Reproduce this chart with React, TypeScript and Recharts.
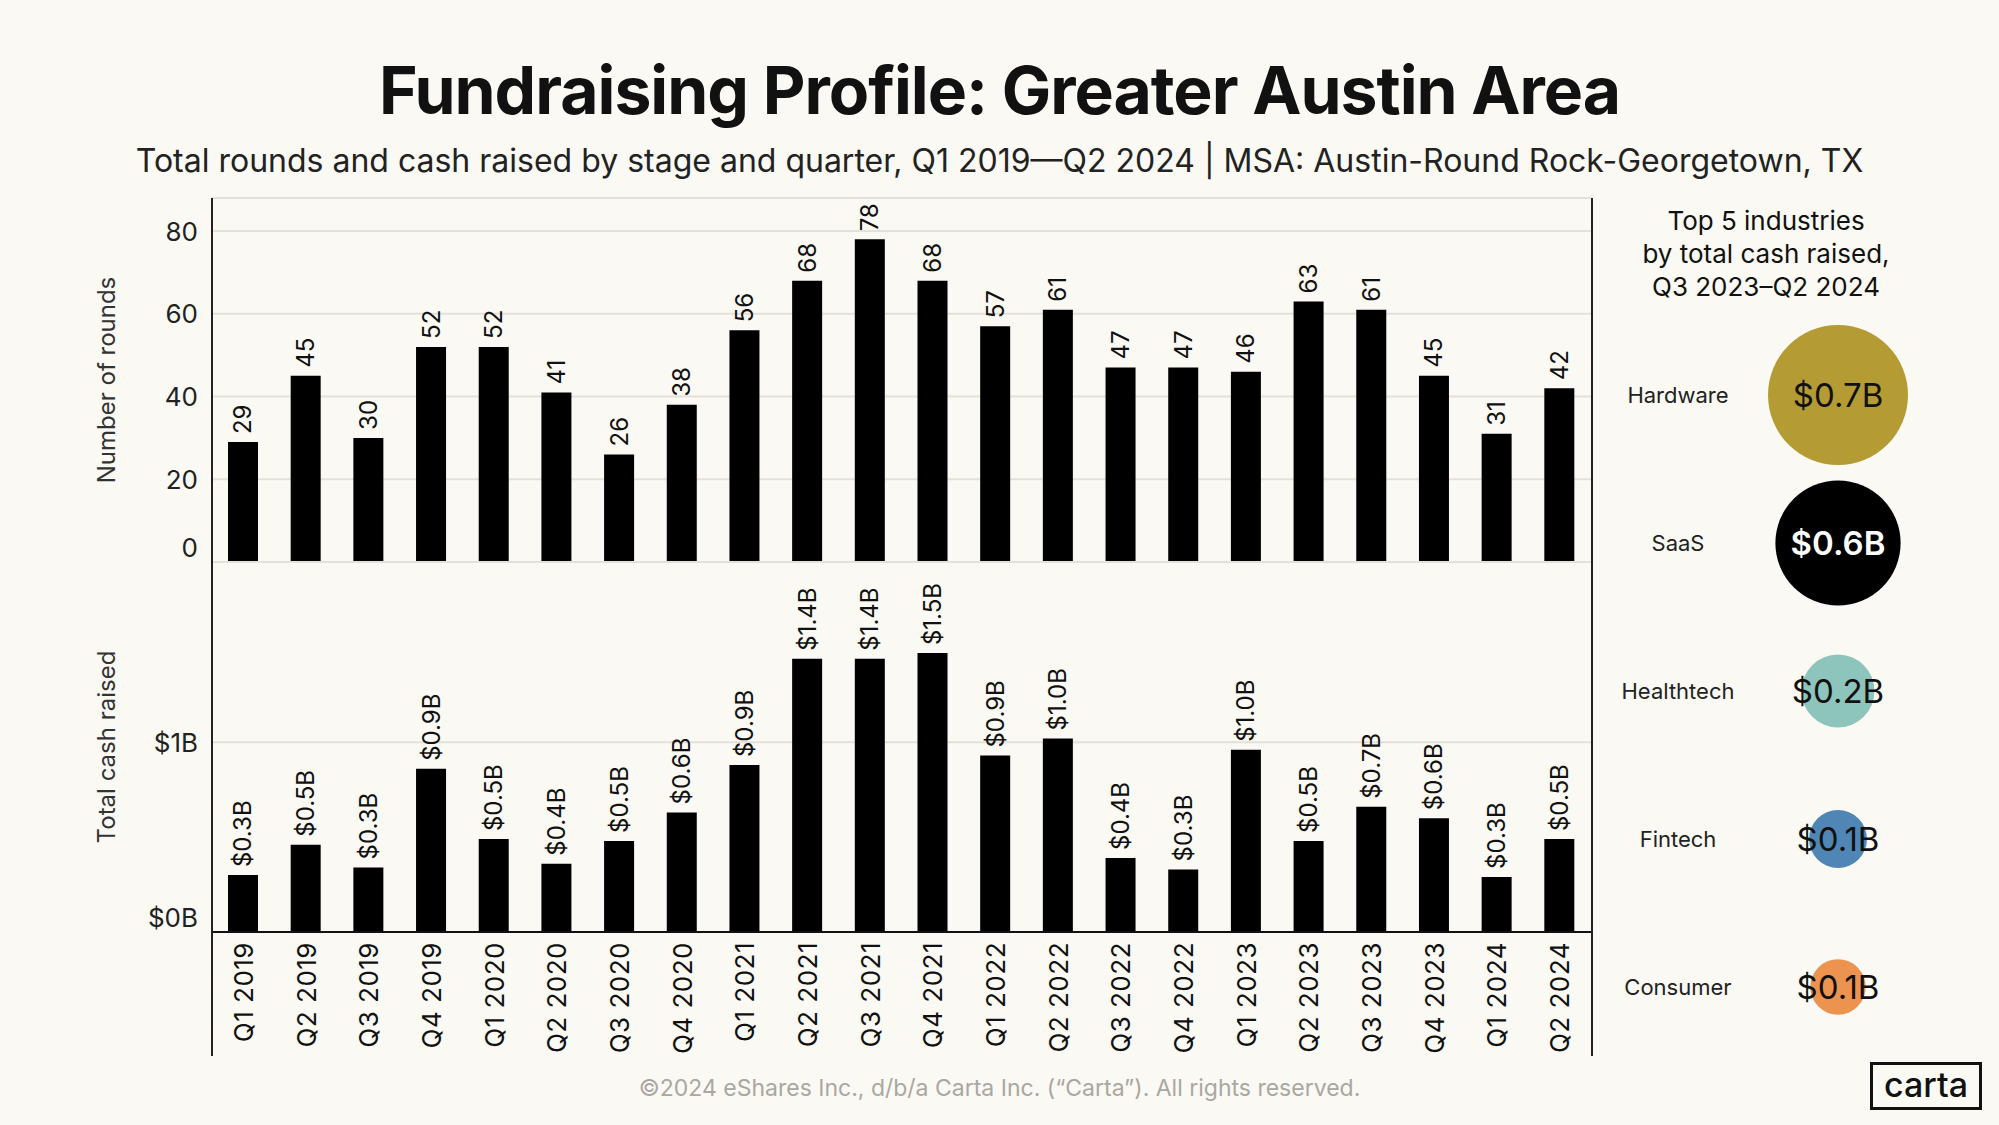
import {
  Bar,
  BarChart,
  CartesianGrid,
  Cell,
  LabelList,
  Scatter,
  ScatterChart,
  XAxis,
  YAxis,
  ZAxis,
} from "recharts";

const QUARTERS = [
  "Q1 2019", "Q2 2019", "Q3 2019", "Q4 2019",
  "Q1 2020", "Q2 2020", "Q3 2020", "Q4 2020",
  "Q1 2021", "Q2 2021", "Q3 2021", "Q4 2021",
  "Q1 2022", "Q2 2022", "Q3 2022", "Q4 2022",
  "Q1 2023", "Q2 2023", "Q3 2023", "Q4 2023",
  "Q1 2024", "Q2 2024",
];
const ROUNDS = [29, 45, 30, 52, 52, 41, 26, 38, 56, 68, 78, 68, 57, 61, 47, 47, 46, 63, 61, 45, 31, 42];
const CASH_B = [0.3, 0.46, 0.34, 0.86, 0.49, 0.36, 0.48, 0.63, 0.88, 1.44, 1.44, 1.47, 0.93, 1.02, 0.39, 0.33, 0.96, 0.48, 0.66, 0.6, 0.29, 0.49];
const ROUND_TICKS = [0, 20, 40, 60, 80];
const CASH_TICKS = [0, 1];

const INDUSTRIES = ["Hardware", "SaaS", "Healthtech", "Fintech", "Consumer"];
const INDUSTRY_CASH_B = [0.7, 0.56, 0.19, 0.12, 0.11];
const INDUSTRY_COLORS = ["#B59B33", "#000000", "#8DC4BB", "#4F86B5", "#EC9350"];

const BG = "#FBF9F3";
const FONT = "Inter, 'Noto Sans', sans-serif";
const GRID = "#E4E1DA";

const rows = QUARTERS.map((q, i) => ({ q, rounds: ROUNDS[i], cash: CASH_B[i] }));
const bubbles = INDUSTRIES.map((name, i) => ({
  name,
  x: 0.5,
  z: INDUSTRY_CASH_B[i],
  color: INDUSTRY_COLORS[i],
}));

// value label standing upright above a bar
const barLabel = (fmt: (v: number) => string) => (props: any) => {
  const { x, y, width, value } = props;
  const cx = x + width / 2;
  const ly = y - 8;
  return (
    <text
      x={cx}
      y={ly}
      transform={`rotate(-90 ${cx} ${ly})`}
      textAnchor="start"
      dominantBaseline="central"
      fontSize={24}
      fontFamily={FONT}
      fill="#111"
    >
      {fmt(value)}
    </text>
  );
};

const yTick = (fmt: (v: number) => string) => (props: any) => {
  const { x, y, payload } = props;
  // the zero label sits a bit above its line in the original
  const shift = payload.value === 0 ? -15 : 0;
  return (
    <text
      x={x}
      y={y + shift}
      textAnchor="end"
      dominantBaseline="central"
      fontSize={26}
      fontFamily={FONT}
      fill="#222"
    >
      {fmt(payload.value)}
    </text>
  );
};

const xTick = (props: any) => {
  const { x, y, payload } = props;
  return (
    <text
      x={x}
      y={y}
      transform={`rotate(-90 ${x} ${y})`}
      textAnchor="end"
      dominantBaseline="central"
      fontSize={26}
      letterSpacing={0.5}
      fontFamily={FONT}
      fill="#111"
    >
      {payload.value}
    </text>
  );
};

const industryTick = (props: any) => {
  const { y, payload } = props;
  return (
    <text x={87} y={y} textAnchor="middle" dominantBaseline="central" fontSize={22} fontFamily={FONT} fill="#222">
      {payload.value}
    </text>
  );
};

const bubbleLabel = (props: any) => {
  const { x, y, width, height, value, index } = props;
  const dark = INDUSTRIES[index] === "SaaS";
  return (
    <text
      x={x + width / 2}
      y={y + height / 2}
      textAnchor="middle"
      dominantBaseline="central"
      fontSize={33}
      fontFamily={FONT}
      fontWeight={dark ? 600 : 400}
      fill={dark ? "#fff" : "#111"}
    >
      {`$${Number(value).toFixed(1)}B`}
    </text>
  );
};

const axisTitle = (value: string) => ({
  value,
  angle: -90,
  position: "center" as const,
  style: { fontSize: 24, fontFamily: FONT, fill: "#333" },
});

const abs = (left: number, top: number) => ({ position: "absolute" as const, left, top });

export default function App() {
  return (
    <div style={{ position: "absolute", left: 0, top: 0, width: 1999, height: 1125, background: BG, overflow: "hidden", fontFamily: FONT }}>
      <div style={{ ...abs(0, 50), width: 1999, textAlign: "center", fontSize: 66, fontWeight: 700, lineHeight: "80px", letterSpacing: -1, color: "#111" }}>
        Fundraising Profile: Greater Austin Area
      </div>
      <div style={{ ...abs(0, 141), width: 1999, textAlign: "center", fontSize: 32, lineHeight: "40px", color: "#222" }}>
        Total rounds and cash raised by stage and quarter, Q1 2019—Q2 2024 | MSA: Austin-Round Rock-Georgetown, TX
      </div>

      <div style={abs(0, 0)}>
        <BarChart width={1999} height={566} data={rows} margin={{ top: 198, right: 408, bottom: 4, left: 0 }} barSize={30}>
          <CartesianGrid vertical={false} stroke={GRID} strokeWidth={2} />
          <XAxis dataKey="q" hide />
          <YAxis
            width={212}
            domain={[0, 88]}
            ticks={ROUND_TICKS}
            interval={0}
            axisLine={false}
            tickLine={false}
            tickSize={0}
            tickMargin={14}
            tick={yTick((v) => String(v))}
            label={axisTitle("Number of rounds")}
          />
          <Bar dataKey="rounds" fill="#000" isAnimationActive={false}>
            <LabelList dataKey="rounds" content={barLabel((v) => String(v))} />
          </Bar>
        </BarChart>
      </div>

      <div style={abs(0, 0)}>
        <BarChart width={1999} height={1060} data={rows} margin={{ top: 562, right: 408, bottom: 0, left: 0 }} barSize={30}>
          <CartesianGrid vertical={false} stroke={GRID} strokeWidth={2} />
          <XAxis
            dataKey="q"
            height={128}
            interval={0}
            axisLine={{ stroke: "#111", strokeWidth: 2 }}
            tickLine={false}
            tickSize={0}
            tickMargin={10}
            tick={xTick}
          />
          <YAxis
            width={212}
            domain={[0, 1.95]}
            ticks={CASH_TICKS}
            interval={0}
            axisLine={false}
            tickLine={false}
            tickSize={0}
            tickMargin={14}
            tick={yTick((v) => `$${v}B`)}
            label={axisTitle("Total cash raised")}
          />
          <Bar dataKey="cash" fill="#000" isAnimationActive={false}>
            <LabelList dataKey="cash" content={barLabel((v) => `$${v.toFixed(1)}B`)} />
          </Bar>
        </BarChart>
      </div>

      {/* frame lines left and right of the bar panels */}
      <div style={{ ...abs(211, 198), width: 1378, height: 858, borderLeft: "2px solid #222", borderRight: "2px solid #222" }} />

      <div style={{ ...abs(1591, 204), width: 350, textAlign: "center", fontSize: 26, lineHeight: "33px", color: "#111" }}>
        Top 5 industries
        <br />
        by total cash raised,
        <br />
        Q3 2023–Q2 2024
      </div>

      <div style={abs(1591, 321)}>
        <ScatterChart width={408} height={740} margin={{ top: 0, right: 74, bottom: 0, left: 0 }}>
          <XAxis type="number" dataKey="x" domain={[0, 1]} hide />
          <YAxis type="category" dataKey="name" reversed width={160} axisLine={false} tickLine={false} tick={industryTick} />
          <ZAxis type="number" dataKey="z" domain={[0, 0.7]} range={[0, 15394]} />
          <Scatter data={bubbles} isAnimationActive={false}>
            {bubbles.map((b) => (
              <Cell key={b.name} fill={b.color} />
            ))}
            <LabelList dataKey="z" content={bubbleLabel} />
          </Scatter>
        </ScatterChart>
      </div>

      <div style={{ ...abs(0, 1071), width: 1999, textAlign: "center", fontSize: 23, lineHeight: "34px", color: "#A9A7A2" }}>
        ©2024 eShares Inc., d/b/a Carta Inc. (“Carta”). All rights reserved.
      </div>

      <div style={{ ...abs(1870, 1062), width: 106, height: 42, border: "3px solid #111", textAlign: "center", fontSize: 34, fontWeight: 500, lineHeight: "40px", color: "#111" }}>
        carta
      </div>
    </div>
  );
}
